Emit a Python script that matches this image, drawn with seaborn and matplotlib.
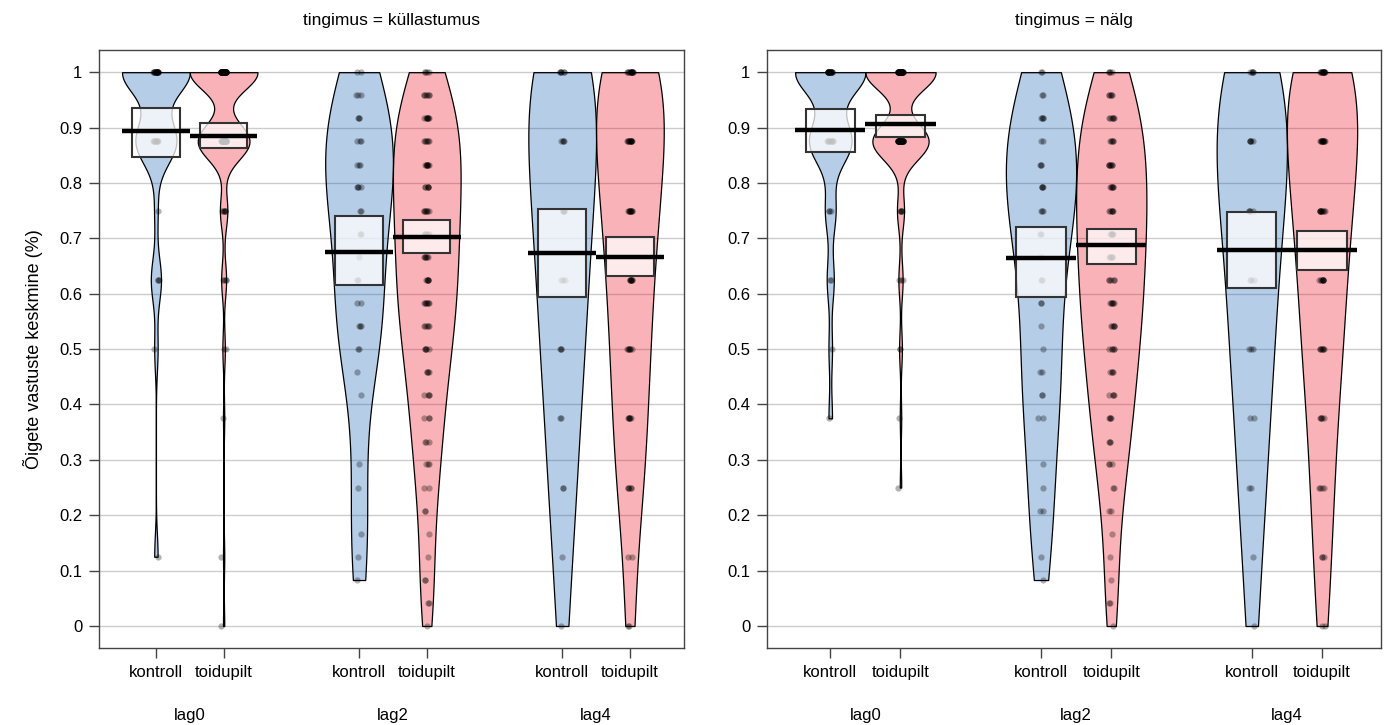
import numpy as np
import pandas as pd
import seaborn as sns
import matplotlib.pyplot as plt

plt.rcParams['font.family'] = ['Liberation Sans', 'DejaVu Sans']

conditions = ['küllastumus', 'nälg']
lags = ['lag0', 'lag2', 'lag4']
groups = ['kontroll', 'toidupilt']

# Possible scores: 8 items in lag0/lag4, 24 items in lag2
eighths = [1, 0.875, 0.75, 0.625, 0.5, 0.375, 0.25, 0.125, 0]
twentyfourths = [1, 0.958, 0.917, 0.875, 0.833, 0.792, 0.75, 0.708, 0.667,
                 0.625, 0.583, 0.542, 0.5, 0.458, 0.417, 0.375, 0.333,
                 0.292, 0.25, 0.208, 0.167, 0.125, 0.083, 0.042, 0]

# How many participants sit at each score
kyll_lag0_kontroll = [20, 12, 1, 3, 1, 0, 0, 1, 0]
kyll_lag0_toidupilt = [55, 42, 6, 4, 2, 1, 0, 1, 1]
kyll_lag2_kontroll = [2, 3, 3, 3, 3, 4, 2, 2, 1, 2, 2, 3, 2, 1, 1, 0, 0, 1, 1, 0, 1, 1, 1, 0, 0]
kyll_lag2_toidupilt = [4, 6, 8, 6, 8, 6, 7, 6, 6, 6, 7, 5, 5, 4, 4, 3, 3, 3, 2, 2, 1, 1, 2, 2, 1]
kyll_lag4_kontroll = [6, 4, 4, 3, 3, 2, 2, 1, 1]
kyll_lag4_toidupilt = [14, 12, 10, 8, 7, 6, 5, 2, 2]

nalg_lag0_kontroll = [20, 12, 3, 2, 1, 1, 0, 0, 0]
nalg_lag0_toidupilt = [50, 40, 5, 3, 2, 1, 1, 0, 0]
nalg_lag2_kontroll = [2, 2, 4, 2, 3, 4, 3, 2, 1, 2, 2, 1, 1, 2, 2, 2, 0, 1, 1, 2, 0, 1, 1, 0, 0]
nalg_lag2_toidupilt = [4, 5, 6, 5, 7, 6, 6, 6, 6, 5, 6, 5, 5, 4, 4, 4, 3, 3, 2, 2, 1, 1, 1, 2, 1]
nalg_lag4_kontroll = [5, 5, 4, 3, 3, 2, 2, 1, 1]
nalg_lag4_toidupilt = [14, 12, 10, 8, 7, 5, 4, 3, 2]

# Means and inference bands, order: lag0 k/t, lag2 k/t, lag4 k/t
kyll_mean = [0.893, 0.884, 0.675, 0.702, 0.673, 0.666]
kyll_low = [0.847, 0.863, 0.616, 0.673, 0.594, 0.632]
kyll_high = [0.935, 0.908, 0.740, 0.733, 0.753, 0.702]

nalg_mean = [0.895, 0.906, 0.664, 0.688, 0.679, 0.679]
nalg_low = [0.856, 0.883, 0.594, 0.653, 0.610, 0.643]
nalg_high = [0.933, 0.922, 0.720, 0.717, 0.747, 0.713]

levels = {'lag0': eighths, 'lag2': twentyfourths, 'lag4': eighths}
counts = {
    ('küllastumus', 'lag0', 'kontroll'): kyll_lag0_kontroll,
    ('küllastumus', 'lag0', 'toidupilt'): kyll_lag0_toidupilt,
    ('küllastumus', 'lag2', 'kontroll'): kyll_lag2_kontroll,
    ('küllastumus', 'lag2', 'toidupilt'): kyll_lag2_toidupilt,
    ('küllastumus', 'lag4', 'kontroll'): kyll_lag4_kontroll,
    ('küllastumus', 'lag4', 'toidupilt'): kyll_lag4_toidupilt,
    ('nälg', 'lag0', 'kontroll'): nalg_lag0_kontroll,
    ('nälg', 'lag0', 'toidupilt'): nalg_lag0_toidupilt,
    ('nälg', 'lag2', 'kontroll'): nalg_lag2_kontroll,
    ('nälg', 'lag2', 'toidupilt'): nalg_lag2_toidupilt,
    ('nälg', 'lag4', 'kontroll'): nalg_lag4_kontroll,
    ('nälg', 'lag4', 'toidupilt'): nalg_lag4_toidupilt,
}

frames = []
for (cond, lag, grp), n in counts.items():
    frames.append(pd.DataFrame({'tingimus': cond, 'lag': lag, 'grupp': grp,
                                'value': np.repeat(levels[lag], n)}))
df = pd.concat(frames, ignore_index=True)

# pirate-plot style positions: 1,2 | 4,5 | 7,8
lag_offset = {'lag0': 0, 'lag2': 3, 'lag4': 6}
grp_offset = {'kontroll': 1, 'toidupilt': 2}
df['pos'] = df['lag'].map(lag_offset) + df['grupp'].map(grp_offset)
pos_order = sorted(df['pos'].unique())

summary = pd.DataFrame({
    'tingimus': np.repeat(conditions, 6),
    'pos': pos_order * 2,
    'mean': kyll_mean + nalg_mean,
    'low': kyll_low + nalg_low,
    'high': kyll_high + nalg_high,
})


def nrd0(kde):
    # R's default bandwidth, expressed as a factor of the sample sd
    x = np.asarray(kde.dataset).ravel()
    sd = x.std(ddof=1)
    q75, q25 = np.percentile(x, [75, 25])
    lo = min(sd, (q75 - q25) / 1.34)
    if lo <= 0:
        lo = sd
    return 0.9 * lo * len(x) ** -0.2 / sd


fig = plt.figure(figsize=(13.87, 7.25), dpi=100)
ax_l = fig.add_axes([0.0714, 0.106, 0.4218, 0.825])
ax_r = fig.add_axes([0.553, 0.106, 0.4427, 0.825])
xlims = [(0.16, 8.8), (0.1, 8.84)]

yticks = [0, 0.1, 0.2, 0.3, 0.4, 0.5, 0.6, 0.7, 0.8, 0.9, 1]
ylabels = ['0', '0.1', '0.2', '0.3', '0.4', '0.5', '0.6', '0.7', '0.8', '0.9', '1']

for ax, cond, xl in zip([ax_l, ax_r], conditions, xlims):
    sub = df[df['tingimus'] == cond]

    # Beans
    sns.violinplot(data=sub, x='pos', y='value', hue='grupp', hue_order=groups,
                   palette=['#0C5BB0', '#EE0011'], native_scale=True, dodge=False,
                   cut=0, inner=None, density_norm='width', width=1.0,
                   bw_method=nrd0, gridsize=400, linewidth=0.9,
                   linecolor='black', saturation=1, legend=False, ax=ax)
    for coll in ax.collections:
        fc = coll.get_facecolor()
        fc[:, 3] = 0.3
        coll.set_facecolor(fc)

    # Raw points
    sns.stripplot(data=sub, x='pos', y='value', native_scale=True, jitter=0.04,
                  color='black', alpha=0.3, size=4.5, linewidth=0, ax=ax)

    # Inference band + mean line
    st = summary[summary['tingimus'] == cond]
    ax.bar(st['pos'], st['high'] - st['low'], bottom=st['low'], width=0.7,
           color=(1, 1, 1, 0.75), edgecolor='#333333', linewidth=1.5, zorder=3)
    ax.hlines(st['mean'], st['pos'] - 0.5, st['pos'] + 0.5, color='black',
              linewidth=3.2, zorder=4)

    ax.set_xlim(*xl)
    ax.set_ylim(-0.04, 1.04)
    ax.set_xticks(pos_order, [g for _ in lags for g in groups])
    ax.set_yticks(yticks, ylabels)
    ax.set_xlabel('')
    ax.set_ylabel('')
    ax.yaxis.grid(True, color='#CCCCCC', linewidth=1)
    ax.xaxis.grid(False)
    ax.set_axisbelow(True)
    ax.tick_params(direction='out', length=7, width=1, color='#444444',
                   labelsize=12, pad=5)
    for s in ax.spines.values():
        s.set_color('#444444')
        s.set_linewidth(1)

    for i, lag in enumerate(lags):
        ax.text(pos_order[2 * i] + 0.5, -0.113, lag, transform=ax.get_xaxis_transform(),
                ha='center', va='center', fontsize=12)
    ax.set_title(f'tingimus = {cond}', fontsize=12.5, pad=18)

ax_l.set_ylabel('Õigete vastuste keskmine (%)', fontsize=13, labelpad=12)

fig.savefig('out.png', dpi=100)
